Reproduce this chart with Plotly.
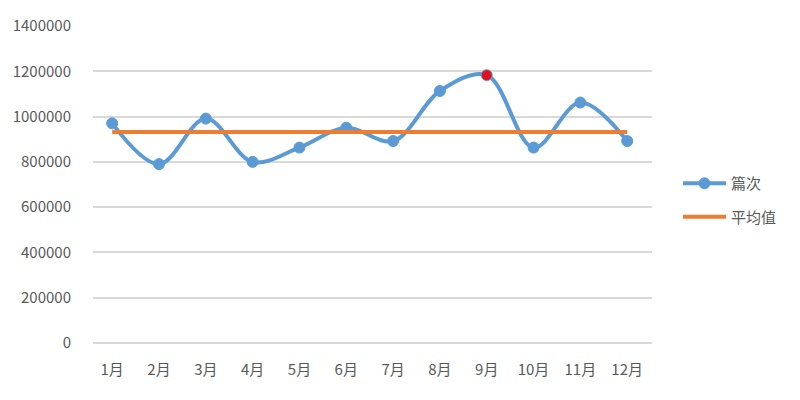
import plotly.graph_objects as go

months = ["1月", "2月", "3月", "4月", "5月", "6月", "7月", "8月", "9月", "10月", "11月", "12月"]
counts = [970000, 790000, 991000, 800000, 863000, 951000, 892000, 1113000, 1183000, 863000, 1062000, 892000]
average = [932000, 932000, 932000, 932000, 932000, 932000, 932000, 932000, 932000, 932000, 932000, 932000]
y_ticks = [0, 200000, 400000, 600000, 800000, 1000000, 1200000, 1400000]

blue = "#5B9BD5"
orange = "#ED7D31"
marker_colors = [blue] * len(months)
marker_colors[counts.index(max(counts))] = "#E0101E"

font_family = "Noto Sans CJK SC, Noto Sans, sans-serif"
text_color = "#595959"

fig = go.Figure()
fig.add_trace(go.Scatter(
    x=months, y=counts, name="篇次", mode="lines+markers", legendgroup="a",
    line=dict(color=blue, width=4, shape="spline", smoothing=1.0),
    marker=dict(size=11, color=marker_colors, line=dict(color=blue, width=1)),
))
fig.add_trace(go.Scatter(
    x=months, y=average, name="平均值", mode="lines", legendgroup="b",
    line=dict(color=orange, width=4),
))

fig.update_layout(
    width=800, height=400,
    margin=dict(l=93, r=148, t=26, b=57),
    plot_bgcolor="white", paper_bgcolor="white",
    font=dict(family=font_family, color=text_color, size=15),
    showlegend=True,
    legend=dict(x=1.0465, y=0.451, xanchor="left", yanchor="middle",
                font=dict(size=15, color=text_color), itemwidth=43,
                tracegroupgap=11, bgcolor="rgba(0,0,0,0)"),
    xaxis=dict(type="category", range=[-0.41, 11.53], showgrid=False, showline=False,
               zeroline=False, ticks="", ticklabelstandoff=16, tickfont=dict(size=15)),
    yaxis=dict(range=[0, 1400000], tickvals=y_ticks, tickformat="d",
               showgrid=True, gridcolor="#D9D9D9", gridwidth=1.5,
               zeroline=True, zerolinecolor="#D9D9D9", zerolinewidth=1.5,
               showline=False, ticks="", ticklabelstandoff=21,
               tickfont=dict(size=15)),
)

fig.write_html("out.html", config={"displayModeBar": False},
               post_script="document.body.style.margin='0px';")
